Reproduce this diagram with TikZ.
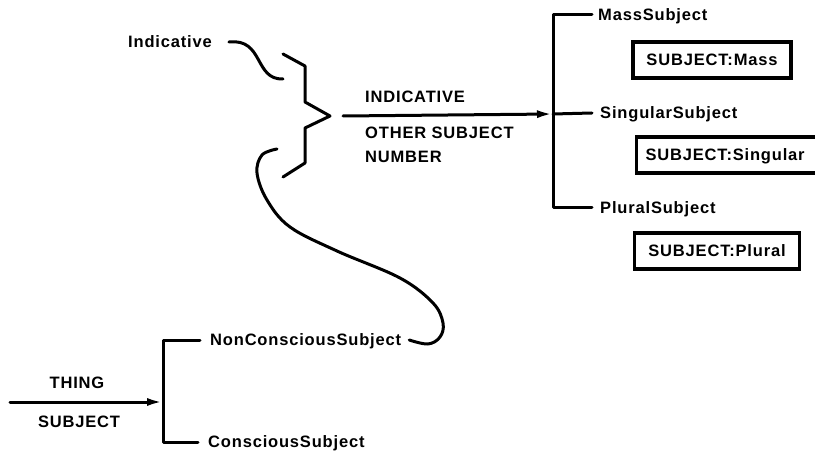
\documentclass[tikz,border=0pt]{standalone}
\usepackage{fontspec}
\setmainfont{Liberation Sans}
\newfontfamily\lblfont[LetterSpace=5]{Liberation Sans}
\usetikzlibrary{arrows.meta}

\tikzset{
  lbl/.style={font={\lblfont\bfseries\fontsize{16.5}{18}\selectfont}, inner sep=2pt, text height=11.5pt, text depth=0pt},
  tagbox/.style={lbl, draw, line width=3.2pt, minimum height=36pt},
  wire/.style={line width=3pt, line cap=round, line join=round},
  feed/.style={wire, -{Latex[length=16pt,width=8pt]}},
}

\begin{document}
\begin{tikzpicture}[x=1pt,y=-1pt]
            \useasboundingbox (0,0) rectangle (815,468);
            % upper part
            \node[lbl,anchor=west] (ind) at (126,42) {Indicative};
            \coordinate (bt) at (283,79);
            \coordinate (bb) at (277,149);
            \coordinate (btip) at (330,116);
            \draw[wire] (283,54)--(305,66)--(305,102)--(btip)--(305,128)--(305,163)--(283,177);
            \draw[wire] ([xshift=15pt]ind.east) .. controls (264,38) and (254,80) .. (bt);
            \node[lbl,anchor=west] (indc) at (363,97) {INDICATIVE};
            \node[lbl,anchor=west] (other) at (363,133) {OTHER SUBJECT};
            \node[lbl,anchor=west] (num) at (363,157) {NUMBER};
            \node[lbl,anchor=west] (mass) at (596,15) {MassSubject};
            \node[lbl,anchor=west] (sing) at (598,113) {SingularSubject};
            \node[lbl,anchor=west] (plur) at (598,208) {PluralSubject};
            \coordinate (rj) at (553,114);
            \draw[wire] ([xshift=-4pt]mass.west) -| (rj) |- ([xshift=-6pt]plur.west);
            \draw[wire] ([xshift=-6pt]sing.west)--(rj);
            \draw[feed] ([xshift=13pt]btip)--(rj);
            \node[tagbox,minimum width=158pt] (bmass) at (712,60) {SUBJECT:Mass};
            \node[tagbox,minimum width=200pt,anchor=west] (bsing) at (635,155) {\hspace*{-23pt}SUBJECT:Singular};
            \node[tagbox,minimum width=165pt] (bplur) at (717,251) {SUBJECT:Plural};
            % lower part
            \node[lbl] (thing) at (77,383) {THING};
            \node[lbl] (subj) at (79,422) {SUBJECT};
            \node[lbl,anchor=west] (ncs) at (208,340) {NonConsciousSubject};
            \node[lbl,anchor=west] (cs) at (206,442) {ConsciousSubject};
            \coordinate (lin) at (10,402);
            \coordinate (lj) at (163,402);
            \draw[wire] ([xshift=-8pt]ncs.west) -| (lj) |- ([xshift=-8pt]cs.west);
            \draw[feed] (lin)--(lj);
            \draw[wire] plot[smooth,tension=0.6] coordinates {(bb) (262,155) (257,173) (267,200) (290,227) (337,251) (400,278) (433,303) (443,323) (440,337) (428,344) ([xshift=6pt]ncs.east)};
        \end{tikzpicture}
\end{document}
